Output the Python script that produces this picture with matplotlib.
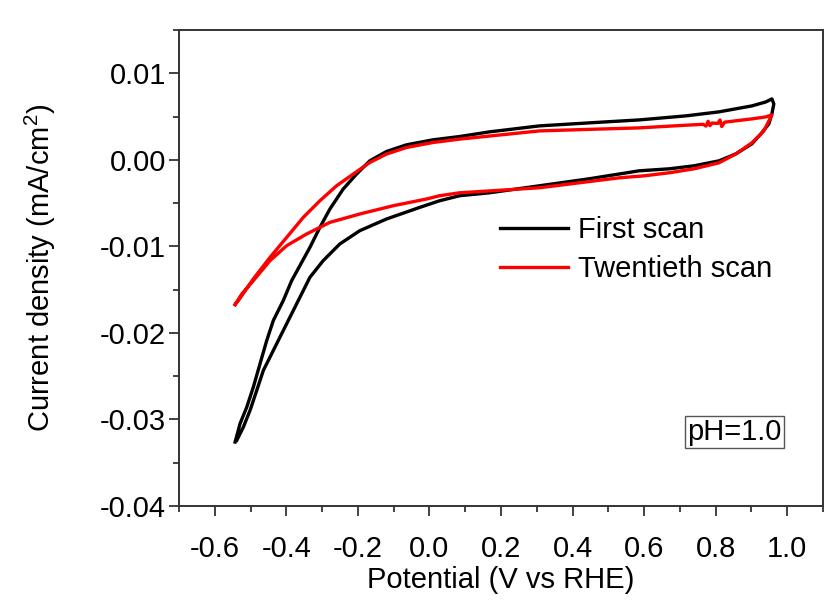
import matplotlib
matplotlib.use("Agg")
import matplotlib.pyplot as plt
from matplotlib.ticker import MultipleLocator, FormatStrFormatter

plt.rcParams['font.family'] = ['Liberation Sans', 'DejaVu Sans']
plt.rcParams['mathtext.fontset'] = 'custom'
plt.rcParams['mathtext.rm'] = 'Liberation Sans'

# First scan: forward (anodic) branch then reverse (cathodic) branch
first_fwd_v = [-0.5432, -0.5293, -0.5106, -0.4922, -0.4735, -0.4548, -0.4364, -0.4085,
               -0.3851, -0.3341, -0.3062, -0.2783, -0.2412, -0.2038, -0.1668,
               -0.1202, -0.0644, 0.0098, 0.0842, 0.1679, 0.3073, 0.4467, 0.5862,
               0.7172, 0.8092, 0.9013, 0.9403, 0.9571]
first_fwd_j = [-0.03261, -0.03048, -0.02857, -0.02626, -0.02356, -0.02088, -0.01857, -0.01626,
               -0.01396, -0.01012, -0.00781, -0.00569, -0.00338, -0.00165, -0.00012,
               0.00096, 0.00173, 0.00231, 0.00269, 0.00323, 0.00392, 0.00427, 0.00461,
               0.00508, 0.00554, 0.00623, 0.00669, 0.00704]
first_rev_v = [0.9626, 0.9571, 0.9487, 0.9264, 0.9013, 0.8567, 0.8092, 0.7395,
               0.6698, 0.5862, 0.4467, 0.3073, 0.1679, 0.0842, 0.0284, -0.0273,
               -0.1202, -0.1947, -0.2504, -0.2970, -0.3341, -0.3712, -0.4085, -0.4364,
               -0.4643, -0.4827, -0.5014, -0.5201, -0.5385]
first_rev_j = [0.00646, 0.00531, 0.00415, 0.00300, 0.00185, 0.00069, -0.00012, -0.00069,
               -0.00104, -0.00127, -0.00219, -0.00300, -0.00381, -0.00415, -0.00473, -0.00550,
               -0.00684, -0.00819, -0.00972, -0.01165, -0.01358, -0.01664, -0.01972, -0.02203,
               -0.02434, -0.02664, -0.02895, -0.03088, -0.03241]

# Twentieth scan
twent_fwd_v = [-0.5432, -0.5340, -0.4922, -0.4456, -0.3990, -0.3528, -0.3062, -0.2596,
               -0.2133, -0.1668, -0.1202, -0.0644, 0.0098, 0.0842, 0.3073, 0.4467,
               0.5862, 0.7172, 0.7650, 0.7730, 0.7790, 0.7840, 0.7900, 0.8060, 0.8120,
               0.8170, 0.8250, 0.9013, 0.9403, 0.9571]
twent_fwd_j = [-0.01672, -0.01626, -0.01376, -0.01127, -0.00896, -0.00666, -0.00473, -0.00300,
               -0.00165, -0.00031, 0.00066, 0.00142, 0.00200, 0.00239, 0.00334, 0.00352,
               0.00369, 0.00400, 0.00410, 0.00390, 0.00445, 0.00395, 0.00425, 0.00420, 0.00460,
               0.00385, 0.00435, 0.00473, 0.00496, 0.00519]
twent_rev_v = [0.9487, 0.9348, 0.9013, 0.8567, 0.8092, 0.7395, 0.6698, 0.6000,
               0.5304, 0.3073, 0.0842, 0.0284, -0.0086, -0.1018, -0.1947, -0.2783,
               -0.3433, -0.3990, -0.4456, -0.4922, -0.5237, -0.5432]
twent_rev_j = [0.00450, 0.00334, 0.00196, 0.00069, -0.00035, -0.00104, -0.00150, -0.00185,
               -0.00208, -0.00323, -0.00381, -0.00415, -0.00453, -0.00531, -0.00626, -0.00723,
               -0.00857, -0.00992, -0.01165, -0.01396, -0.01546, -0.01672]

labels = ["First scan", "Twentieth scan"]
colors = ["black", "red"]

fig = plt.figure(figsize=(8.26, 6.02), dpi=100)
ax = fig.add_axes([179 / 826, 1 - 506 / 602, 644 / 826, 476 / 602])

ax.plot(first_fwd_v + first_rev_v, first_fwd_j + first_rev_j,
        color=colors[0], lw=2.4, label=labels[0], solid_joinstyle='round')
ax.plot(twent_fwd_v + twent_rev_v, twent_fwd_j + twent_rev_j,
        color=colors[1], lw=2.4, label=labels[1], solid_joinstyle='round')

ax.set_xlim(-0.7, 1.1)
ax.set_ylim(-0.04, 0.015)
ax.xaxis.set_major_locator(MultipleLocator(0.2))
ax.xaxis.set_minor_locator(MultipleLocator(0.1))
ax.yaxis.set_major_locator(MultipleLocator(0.01))
ax.yaxis.set_minor_locator(MultipleLocator(0.005))
ax.xaxis.set_major_formatter(FormatStrFormatter('%.1f'))
ax.yaxis.set_major_formatter(FormatStrFormatter('%.2f'))

ax.tick_params(which='both', direction='out', top=False, right=False,
               color='#333333', width=1.3)
ax.tick_params(which='major', length=7, labelsize=21)
ax.tick_params(which='minor', length=4)
ax.tick_params(axis='y', which='major', pad=2.5)
ax.tick_params(axis='x', which='major', pad=14)
for s in ax.spines.values():
    s.set_color('#333333')
    s.set_linewidth(1.4)

ax.set_xlabel("Potential (V vs RHE)", fontsize=21, labelpad=2)
ax.set_ylabel("Current density (mA/cm$^2$)", fontsize=21, labelpad=30)

ax.legend(loc='upper left', bbox_to_anchor=(0.481, 0.633), frameon=False,
          fontsize=21, handlelength=2.3, handletextpad=0.35, labelspacing=0.36,
          borderaxespad=0.0)

ax.text(0.8626, 0.1555, "pH=1.0", transform=ax.transAxes, fontsize=21,
        ha='center', va='center',
        bbox=dict(boxstyle='square,pad=0.08', fc='white', ec='#555555', lw=1.0))

fig.savefig("out.png", dpi=100)
